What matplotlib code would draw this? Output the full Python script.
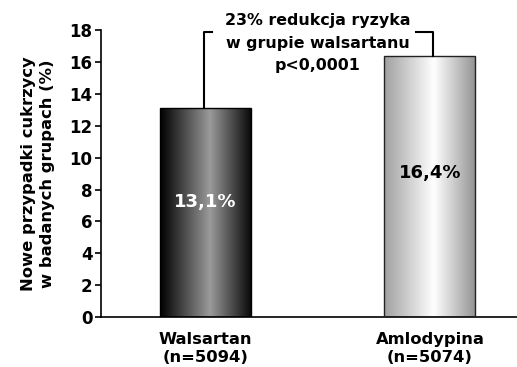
import numpy as np
import matplotlib
matplotlib.use('Agg')
import matplotlib.pyplot as plt
from matplotlib.colors import LinearSegmentedColormap

groups = ['Walsartan\n(n=5094)', 'Amlodypina\n(n=5074)']
values = [13.1, 16.4]
value_labels = ['13,1%', '16,4%']
yticks = [0, 2, 4, 6, 8, 10, 12, 14, 16, 18]
note = '23% redukcja ryzyka\nw grupie walsartanu\np<0,0001'

plt.rcParams['font.family'] = 'DejaVu Sans'
plt.rcParams['font.weight'] = 'bold'

fig = plt.figure(figsize=(5.17, 3.67), dpi=100)
ax = fig.add_axes([0.195, 0.136, 0.805, 0.782])

# cylinder-like shading for each bar
dark = LinearSegmentedColormap.from_list('dark', [(0, '#000000'), (0.55, '#9a9a9a'), (1, '#0a0a0a')])
light = LinearSegmentedColormap.from_list('light', [(0, '#a0a0a0'), (0.55, '#ffffff'), (1, '#959595')])
cmaps = [dark, light]
txt_colors = ['white', 'black']
edge_colors = ['black', '#222222']
width = 0.405
grad = np.linspace(0, 1, 256).reshape(1, -1)

x = np.arange(len(values))
bars = ax.bar(x, values, width=width, color='none', edgecolor=edge_colors, linewidth=1.0, zorder=3)
for i, b in enumerate(bars):
    x0, h = b.get_x(), b.get_height()
    im = ax.imshow(grad, cmap=cmaps[i], aspect='auto', extent=[x0, x0 + width, 0, h], zorder=2)
    im.set_clip_path(b)
    ax.text(x[i], values[i] * 0.55, value_labels[i], ha='center', va='center',
            fontsize=13, fontweight='bold', color=txt_colors[i], zorder=4)

# bracket between bar tops
top = 17.9
ax.plot([x[0] - 0.007, x[0] - 0.007, x[0] + 0.03], [values[0], top, top], color='black', lw=1.5, clip_on=False, zorder=4)
ax.plot([0.94, 1.013, 1.013], [top, top, values[1]], color='black', lw=1.5, clip_on=False, zorder=4)
ax.text(0.5, 19.05, note, ha='center', va='top', fontsize=11.4, fontweight='bold', linespacing=1.6,
        zorder=5, clip_on=False)

ax.set_xlim(-0.465, 1.3875)
ax.set_ylim(0, 18)
ax.set_yticks(yticks)
ax.set_yticklabels([str(t) for t in yticks], fontsize=12, fontweight='bold')
ax.set_xticks(x)
ax.set_xticklabels(groups, fontsize=11.8, fontweight='bold', linespacing=1.2)
ax.tick_params(axis='x', length=0, pad=11)
ax.tick_params(axis='y', length=4, width=1.2, pad=2)
ax.spines['top'].set_visible(False)
ax.spines['right'].set_visible(False)
ax.spines['left'].set_linewidth(1.2)
ax.spines['bottom'].set_linewidth(1.2)
ax.set_ylabel('Nowe przypadki cukrzycy\nw badanych grupach (%)', fontsize=11.8, fontweight='bold',
              labelpad=10, linespacing=1.35)

fig.savefig('out.png', dpi=100)
